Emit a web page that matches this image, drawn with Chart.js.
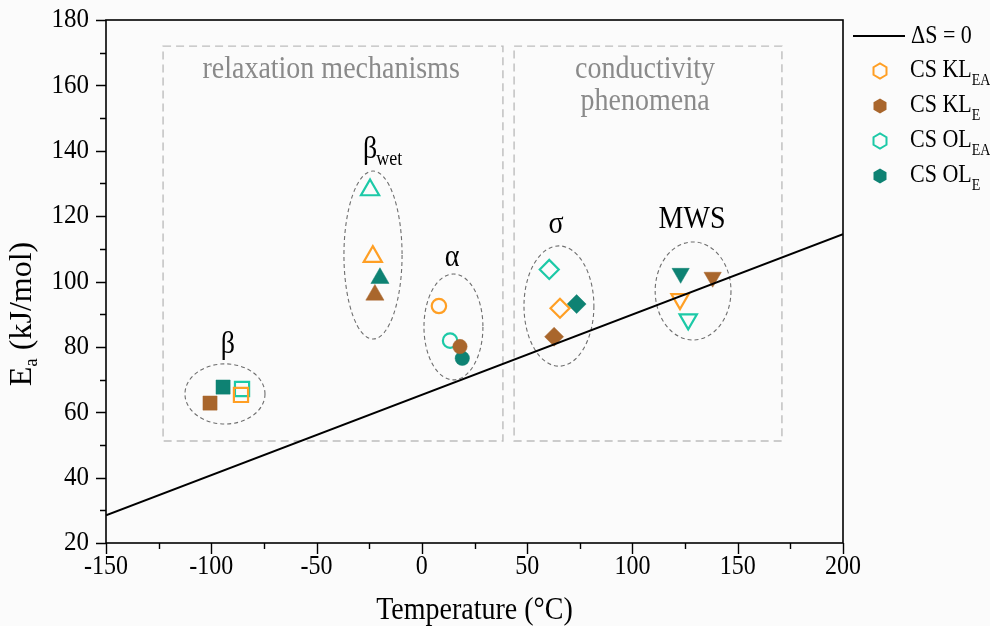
<!DOCTYPE html>
<html><head><meta charset="utf-8">
<script src="https://cdn.jsdelivr.net/npm/chart.js@4.4.1/dist/chart.umd.min.js"></script>
<style>html,body{margin:0;padding:0;background:#fbfbfb;overflow:hidden}#wrap{width:990px;height:626px}</style>
</head><body><div id="wrap"><canvas id="c" width="990" height="626"></canvas></div>
<script>
// ---- data ----
const groups = ['β', 'βwet', 'α', 'σ', 'MWS'];
const klEA_T = [-85.9, -23.3, 8.1, 65.6, 122.6];
const klEA_E = [65.3, 107.6, 92.5, 91.8, 94.6];
const klE_T  = [-100.6, -22.3, 18.1, 62.8, 138.1];
const klE_E  = [62.8, 95.9, 80.1, 83.1, 101.3];
const olEA_T = [-85.4, -24.6, 13.4, 60.5, 126.5];
const olEA_E = [67.1, 128.0, 81.9, 103.7, 88.4];
const olE_T  = [-94.4, -19.9, 19.2, 73.5, 122.9];
const olE_E  = [67.7, 101.0, 76.5, 93.1, 102.5];
const lineT  = [-150, 200];
const lineE  = [28.5, 114.5];
const xTicks = [-150, -100, -50, 0, 50, 100, 150, 200];
const yTicks = [20, 40, 60, 80, 100, 120, 140, 160, 180];

// ---- styles ----
const C_ORANGE = '#ff9f24', C_BROWN = '#a9662c', C_TURQ = '#1cc9a7', C_TEAL = '#0e8273';
const SERIF = '"Liberation Serif", "DejaVu Serif", serif';
const shapes = ['rect', 'triangle', 'circle', 'rectRot', 'triangle'];
const rots = [0, 0, 0, 0, 180];
const radii = [10, 10.5, 7.2, 9.5, 10];

const pts = (xs, ys) => xs.map((x, i) => ({x, y: ys[i]}));
function markerSet(label, xs, ys, color, open) {
  return {
    type: 'scatter', label, data: pts(xs, ys),
    pointStyle: shapes, pointRotation: rots, pointRadius: radii, pointHoverRadius: radii,
    borderColor: color, backgroundColor: open ? 'rgba(0,0,0,0)' : color,
    pointBorderWidth: open ? 2.2 : 0.5, order: 2
  };
}

// annotation geometry in data coordinates
const boxes = [
  {x0: -122.9, x1: 38.5, y0: 51.2, y1: 172.0, lines: ['relaxation mechanisms'], tx: -43.1, ty: [164.7]},
  {x0: 43.8, x1: 171.0, y0: 51.2, y1: 172.0, lines: ['conductivity', 'phenomena'], tx: 106, ty: [164.7, 154.9]}
];
const ellipses = [
  {cx: -93.5, cy: 65.6, rx: 19.0, ry: 9.2},
  {cx: -23.2, cy: 108.1, rx: 13.8, ry: 25.7},
  {cx: 15.0, cy: 86.1, rx: 14.0, ry: 16.2},
  {cx: 65.1, cy: 92.5, rx: 16.6, ry: 18.4},
  {cx: 128.8, cy: 97.1, rx: 18.0, ry: 15.0}
];
const groupLabels = [
  {t: 'β', x: -92.1, y: 80.6},
  {t: 'β', sub: 'wet', x: -24.6, y: 140.2},
  {t: 'α', x: 14.3, y: 107.2},
  {t: 'σ', x: 63.7, y: 117.3},
  {t: 'MWS', x: 128.3, y: 118.8}
];
const legendItems = [
  {main: 'CS KL', sub: 'EA', color: C_ORANGE, open: true},
  {main: 'CS KL', sub: 'E', color: C_BROWN, open: false},
  {main: 'CS OL', sub: 'EA', color: C_TURQ, open: true},
  {main: 'CS OL', sub: 'E', color: C_TEAL, open: false}
];

function hexagon(ctx, x, y, r) {
  ctx.beginPath();
  for (let i = 0; i < 6; i++) {
    const a = Math.PI / 6 + i * Math.PI / 3;
    const px = x + r * Math.cos(a), py = y + r * Math.sin(a);
    i ? ctx.lineTo(px, py) : ctx.moveTo(px, py);
  }
  ctx.closePath();
}
// text slightly stretched vertically, like the reference
function sText(ctx, t, x, y, sy) {
  ctx.save(); ctx.translate(x, y); ctx.scale(1, sy); ctx.fillText(t, 0, 0); ctx.restore();
}

const decor = {
  id: 'decor',
  beforeDraw(chart) {
    const ctx = chart.ctx;
    ctx.save(); ctx.fillStyle = '#fbfbfb'; ctx.fillRect(0, 0, chart.width, chart.height); ctx.restore();
  },
  beforeDatasetsDraw(chart) {
    const ctx = chart.ctx, xs = chart.scales.x, ys = chart.scales.y;
    ctx.save();
    ctx.strokeStyle = '#bdbdbd'; ctx.lineWidth = 1.4; ctx.setLineDash([8, 5]);
    boxes.forEach(b => {
      const x0 = xs.getPixelForValue(b.x0), x1 = xs.getPixelForValue(b.x1);
      const y0 = ys.getPixelForValue(b.y1), y1 = ys.getPixelForValue(b.y0);
      ctx.strokeRect(x0, y0, x1 - x0, y1 - y0);
    });
    ctx.setLineDash([]);
    ctx.fillStyle = '#8a8a8a'; ctx.font = '28px ' + SERIF; ctx.textAlign = 'center'; ctx.textBaseline = 'middle';
    boxes.forEach(b => b.lines.forEach((l, i) => sText(ctx, l, xs.getPixelForValue(b.tx), ys.getPixelForValue(b.ty[i]), 1.1)));
    ctx.strokeStyle = '#6e6e6e'; ctx.lineWidth = 1.1; ctx.setLineDash([4, 3]);
    ellipses.forEach(e => {
      const cx = xs.getPixelForValue(e.cx), cy = ys.getPixelForValue(e.cy);
      const rx = Math.abs(xs.getPixelForValue(e.cx + e.rx) - cx), ry = Math.abs(ys.getPixelForValue(e.cy + e.ry) - cy);
      ctx.beginPath(); ctx.ellipse(cx, cy, rx, ry, 0, 0, Math.PI * 2); ctx.stroke();
    });
    ctx.setLineDash([]);
    ctx.fillStyle = '#000';
    groupLabels.forEach(g => {
      const px = xs.getPixelForValue(g.x), py = ys.getPixelForValue(g.y);
      ctx.font = '28px ' + SERIF; ctx.textAlign = 'center'; ctx.textBaseline = 'middle';
      sText(ctx, g.t, px, py, 1.12);
      if (g.sub) {
        const w = ctx.measureText(g.t).width;
        ctx.font = '18px ' + SERIF; ctx.textAlign = 'left';
        sText(ctx, g.sub, px + w / 2 - 1, py + 10, 1.12);
      }
    });
    ctx.restore();
  },
  afterDraw(chart) {
    const ctx = chart.ctx, xs = chart.scales.x, ys = chart.scales.y, a = chart.chartArea;
    ctx.save();
    ctx.strokeStyle = '#000'; ctx.lineWidth = 1.6;
    ctx.strokeRect(a.left, a.top, a.right - a.left, a.bottom - a.top);
    ctx.lineWidth = 1.4;
    ctx.beginPath();
    for (let v = -150; v <= 200; v += 25) {
      const px = Math.round(xs.getPixelForValue(v)) + 0.5;
      const len = (v % 50 === 0) ? 11 : 6;
      ctx.moveTo(px, a.bottom); ctx.lineTo(px, a.bottom + len);
    }
    for (let v = 20; v <= 180; v += 10) {
      const py = Math.round(ys.getPixelForValue(v)) + 0.5;
      const len = (v % 20 === 0) ? 10 : 6;
      ctx.moveTo(a.left, py); ctx.lineTo(a.left - len, py);
    }
    ctx.stroke();
    // tick labels
    ctx.fillStyle = '#000'; ctx.textBaseline = 'middle';
    ctx.font = '24px ' + SERIF; ctx.textAlign = 'center';
    xTicks.forEach(v => sText(ctx, String(v), xs.getPixelForValue(v), 567, 1.12));
    ctx.font = '25px ' + SERIF; ctx.textAlign = 'right';
    yTicks.forEach(v => sText(ctx, String(v), 89, ys.getPixelForValue(v), 1.12));
    // axis titles
    ctx.font = '28px ' + SERIF; ctx.textAlign = 'center';
    sText(ctx, 'Temperature (°C)', (a.left + a.right) / 2, 611, 1.12);
    ctx.save();
    ctx.translate(23, 314); ctx.rotate(-Math.PI / 2);
    const F = 32, FS = 19;
    ctx.font = F + 'px ' + SERIF;
    const wE = ctx.measureText('E').width;
    ctx.font = FS + 'px ' + SERIF; const wa = ctx.measureText('a').width;
    ctx.font = F + 'px ' + SERIF; const wRest = ctx.measureText(' (kJ/mol)').width;
    let sx = -(wE + wa + wRest) / 2;
    ctx.textAlign = 'left';
    ctx.fillText('E', sx, 0); sx += wE;
    ctx.font = FS + 'px ' + SERIF; ctx.fillText('a', sx, 9); sx += wa;
    ctx.font = F + 'px ' + SERIF; ctx.fillText(' (kJ/mol)', sx, 0);
    ctx.restore();
    // legend
    ctx.lineWidth = 2; ctx.strokeStyle = '#000';
    ctx.beginPath(); ctx.moveTo(853, 36); ctx.lineTo(905, 36); ctx.stroke();
    ctx.font = '22px ' + SERIF; ctx.textAlign = 'left'; ctx.textBaseline = 'middle';
    sText(ctx, 'ΔS = 0', 911, 37, 1.12);
    legendItems.forEach((it, i) => {
      const y = 71 + i * 35;
      hexagon(ctx, 880, y, 7.5);
      if (it.open) { ctx.lineWidth = 2; ctx.strokeStyle = it.color; ctx.stroke(); }
      else { ctx.fillStyle = it.color; ctx.fill(); }
      ctx.fillStyle = '#000';
      ctx.font = '22px ' + SERIF; sText(ctx, it.main, 910, y, 1.12);
      const w = ctx.measureText(it.main).width;
      ctx.font = '14px ' + SERIF; sText(ctx, it.sub, 910 + w, y + 10, 1.12);
    });
    ctx.restore();
  }
};

new Chart(document.getElementById('c'), {
  data: {
    datasets: [
      {type: 'line', label: 'ΔS = 0', data: pts(lineT, lineE), borderColor: '#000', borderWidth: 2,
       pointRadius: 0, fill: false, order: 1},
      markerSet('CS KL EA', klEA_T, klEA_E, C_ORANGE, true),
      markerSet('CS KL E', klE_T, klE_E, C_BROWN, false),
      markerSet('CS OL EA', olEA_T, olEA_E, C_TURQ, true),
      markerSet('CS OL E', olE_T, olE_E, C_TEAL, false)
    ]
  },
  options: {
    responsive: false, animation: false, devicePixelRatio: 1,
    layout: {padding: {top: 20, right: 147, left: 0, bottom: 0}},
    plugins: {legend: {display: false}, tooltip: {enabled: false}},
    scales: {
      x: {type: 'linear', min: -150, max: 200,
          afterBuildTicks: s => { s.ticks = xTicks.map(v => ({value: v})); },
          afterFit: s => { s.height = 83; },
          grid: {display: false, drawTicks: false}, border: {display: false},
          ticks: {display: false}},
      y: {type: 'linear', min: 20, max: 180,
          afterBuildTicks: s => { s.ticks = yTicks.map(v => ({value: v})); },
          afterFit: s => { s.width = 106; },
          grid: {display: false, drawTicks: false}, border: {display: false},
          ticks: {display: false}}
    }
  },
  plugins: [decor]
});
</script></body></html>
